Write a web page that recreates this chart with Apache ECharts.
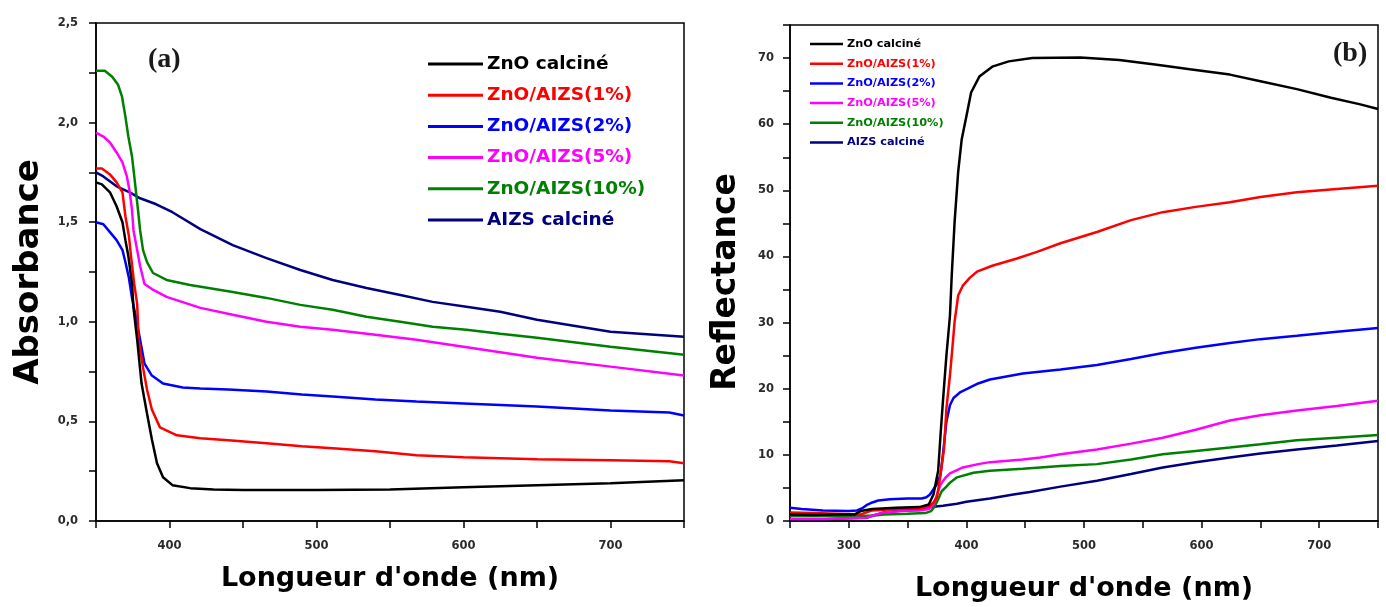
<!DOCTYPE html>
<html>
<head>
<meta charset="utf-8">
<script src="https://cdn.jsdelivr.net/npm/echarts@6/dist/echarts.min.js"></script>
<style>
html,body{margin:0;padding:0;background:#fff;}
#chart{width:1386px;height:607px;}
</style>
</head>
<body>
<div id="chart"></div>
<script>
// ---------- names / colors ----------
const seriesNames = ['ZnO calciné','ZnO/AIZS(1%)','ZnO/AIZS(2%)','ZnO/AIZS(5%)','ZnO/AIZS(10%)','AIZS calciné'];
const seriesColors = ['#000000','#ff0000','#0000ff','#ff00ff','#008000','#000080'];

// ---------- panel (a): Absorbance ----------
const absZnO_wl  = [350,354,359.5,364,368,370,372,374.5,375.5,378,381,384.7,388,391.5,395.6,402,414,430,450,500,550,600,650,700,750];
const absZnO_val = [1.70,1.69,1.65,1.58,1.50,1.41,1.33,1.19,1.07,0.91,0.69,0.54,0.41,0.29,0.22,0.18,0.165,0.158,0.155,0.155,0.158,0.17,0.18,0.19,0.205];

const abs1_wl  = [350,354,359.5,364,368,370,372.4,373.8,376,378,379,382,384.7,388,393.5,405,421,440,466,490,511,540,568,600,650,700,740,750];
const abs1_val = [1.77,1.77,1.74,1.70,1.65,1.53,1.43,1.33,1.19,1.09,0.91,0.77,0.66,0.56,0.47,0.43,0.415,0.405,0.39,0.375,0.365,0.35,0.33,0.32,0.31,0.305,0.30,0.29];

const abs2_wl  = [350,355,359.5,364,368,370,372.4,374.5,375.5,378,380,383,388,395.6,409,421,440,466,490,511,540,568,600,650,700,740,750];
const abs2_val = [1.50,1.49,1.45,1.41,1.36,1.30,1.22,1.12,1.11,0.99,0.91,0.79,0.73,0.69,0.67,0.665,0.66,0.65,0.635,0.625,0.61,0.60,0.59,0.575,0.555,0.545,0.53];

const abs5_wl  = [350,355,359.5,364,368,371,373,374.5,375.5,378,380,383,389,398,421,443,466,489,511,540,568,600,650,700,750];
const abs5_val = [1.95,1.93,1.90,1.85,1.80,1.73,1.65,1.56,1.46,1.36,1.28,1.19,1.16,1.125,1.07,1.035,1.0,0.975,0.96,0.935,0.91,0.875,0.82,0.775,0.73];

const abs10_wl  = [350,356,361,365,367.7,370,372,374.5,376.5,378.6,380,382,384.7,388.8,398,414,443,466,489,511,534,557,579,602,625,650,700,750];
const abs10_val = [2.26,2.26,2.23,2.19,2.13,2.03,1.93,1.83,1.70,1.56,1.46,1.36,1.30,1.245,1.21,1.185,1.15,1.12,1.085,1.06,1.025,1.0,0.975,0.96,0.94,0.92,0.875,0.835];

const absAIZS_wl  = [350,355,364,373,380,391,402,421,443,466,489,511,534,557,579,602,625,650,700,750];
const absAIZS_val = [1.75,1.73,1.68,1.65,1.62,1.59,1.55,1.465,1.385,1.32,1.26,1.21,1.17,1.135,1.10,1.075,1.05,1.01,0.95,0.925];

// ---------- panel (b): Reflectance ----------
const refZnO_wl  = [250,270,290,305,310,320,340,360,368,372,376,378,380,383,386,387.5,390,393,396,400,404,411,422,436,456,497,530,562,590,624,650,681,710,735,750];
const refZnO_val = [1.0,0.9,1.0,1.0,1.5,1.8,2.0,2.1,2.5,4,7.6,13,18,25,31,37,45.3,52.8,57.7,61.2,64.8,67.2,68.7,69.5,70,70.1,69.7,69.0,68.3,67.5,66.5,65.3,64,63,62.3];

const ref1_wl  = [250,270,290,310,315,320,340,360,368,372,375,378,381,383,386,388,390,393,397,403,409,422,443,460,480,511,540,567,595,624,650,681,715,750];
const ref1_val = [1.3,1.2,1.1,1.0,1.3,1.6,1.8,1.9,2.2,2.8,3.6,7,11,17,22,26,30.2,34.1,35.6,36.8,37.7,38.6,39.7,40.7,42,43.7,45.5,46.7,47.5,48.2,49,49.7,50.2,50.7];

const ref2_wl  = [250,260,278,300,307,312,315,320,325,335,350,362,366,369,372,375,378,380,383,386,389,395,401,410,420,448,480,511,540,567,595,624,650,681,715,750];
const ref2_val = [2.0,1.8,1.6,1.5,1.6,2.0,2.4,2.8,3.1,3.3,3.4,3.4,3.6,4.0,4.8,5.6,7,10,15,17.5,18.6,19.5,20,20.8,21.4,22.3,22.9,23.6,24.5,25.4,26.2,26.9,27.5,28,28.6,29.2];

const ref5_wl  = [250,280,300,315,320,330,345,360,368,372,375,378,382,386,392,397,410,420,448,463,480,511,540,567,595,624,650,681,715,750];
const ref5_val = [0.3,0.3,0.4,0.5,0.8,1.3,1.5,1.6,1.8,2.5,4,5.5,6.5,7.2,7.7,8.1,8.6,8.9,9.3,9.6,10.1,10.8,11.7,12.6,13.8,15.2,16,16.7,17.4,18.2];

const ref10_wl  = [250,280,300,320,330,350,365,370,373,376,379,383,386,392,406,420,448,463,480,511,540,567,595,624,650,681,715,750];
const ref10_val = [0.8,0.8,0.8,0.8,1.0,1.1,1.2,1.5,2.2,3.3,4.5,5.2,5.8,6.6,7.3,7.6,7.9,8.1,8.3,8.6,9.3,10.1,10.6,11.1,11.6,12.2,12.6,13.0];

const refAIZS_wl  = [250,280,300,315,320,330,345,360,370,380,392,400,420,440,454,480,511,540,567,595,624,650,681,715,750];
const refAIZS_val = [0.3,0.3,0.4,0.5,0.8,1.3,1.6,1.9,2.1,2.3,2.6,2.9,3.4,4.0,4.4,5.2,6.1,7.1,8.1,8.9,9.6,10.2,10.8,11.4,12.1];

// ---------- axis tick labels ----------
const absTickLabels = ['0,0','0,5','1,0','1,5','2,0','2,5'];

// ---------- build ----------
const zip = (a, b) => a.map((x, i) => [x, b[i]]);
const absSets = [[absZnO_wl,absZnO_val],[abs1_wl,abs1_val],[abs2_wl,abs2_val],[abs5_wl,abs5_val],[abs10_wl,abs10_val],[absAIZS_wl,absAIZS_val]];
const refSets = [[refZnO_wl,refZnO_val],[ref1_wl,ref1_val],[ref2_wl,ref2_val],[ref5_wl,ref5_val],[ref10_wl,ref10_val],[refAIZS_wl,refAIZS_val]];

const FONT = 'DejaVu Sans';
const series = [];
absSets.forEach((s, i) => series.push({
  name: seriesNames[i], type: 'line', xAxisIndex: 0, yAxisIndex: 0,
  data: zip(s[0], s[1]), showSymbol: false, smooth: false,
  lineStyle: {color: seriesColors[i], width: 2.5}, itemStyle: {color: seriesColors[i]},
  z: 10 - i
}));
refSets.forEach((s, i) => series.push({
  name: seriesNames[i], type: 'line', xAxisIndex: 1, yAxisIndex: 1,
  data: zip(s[0], s[1]), showSymbol: false, smooth: false,
  lineStyle: {color: seriesColors[i], width: 2.5}, itemStyle: {color: seriesColors[i]},
  z: 10 - i
}));

const axisLine = {show: true, onZero: false, lineStyle: {color: '#000', width: 1.5}};
const axisTick = {show: true, inside: false, length: 7, lineStyle: {color: '#000', width: 1.5}};
const labelStyle = {color: '#2a2a2a', fontFamily: FONT, fontWeight: 'bold', fontSize: 11.5};
const titleStyle = {color: '#000', fontFamily: FONT, fontWeight: 'bold', fontSize: 27};

const isMult = (v, m) => Math.abs(v / m - Math.round(v / m)) < 1e-6;

const legendData = seriesNames.map((n, i) => ({name: n, textStyle: {color: seriesColors[i]}}));

const option = {
  animation: false,
  backgroundColor: '#fff',
  grid: [
    {left: 96, top: 23, width: 588, height: 498, show: true, borderColor: '#000', borderWidth: 1.5, backgroundColor: 'transparent'},
    {left: 790, top: 25, width: 588, height: 499, show: true, borderColor: '#000', borderWidth: 1.5, backgroundColor: 'transparent'}
  ],
  xAxis: [
    {gridIndex: 0, type: 'value', min: 350, max: 750, interval: 50,
     axisLine, axisTick, splitLine: {show: false},
     axisLabel: Object.assign({margin: 19, formatter: v => (isMult(v, 100) ? String(v) : '')}, labelStyle),
     name: "Longueur d'onde (nm)", nameLocation: 'middle', nameGap: 44, nameTextStyle: titleStyle},
    {gridIndex: 1, type: 'value', min: 250, max: 750, interval: 50,
     axisLine, axisTick, splitLine: {show: false},
     axisLabel: Object.assign({margin: 19, formatter: v => (isMult(v, 100) && v > 250 && v < 750 ? String(v) : '')}, labelStyle),
     name: "Longueur d'onde (nm)", nameLocation: 'middle', nameGap: 54, nameTextStyle: titleStyle}
  ],
  yAxis: [
    {gridIndex: 0, type: 'value', min: 0, max: 2.5, interval: 0.25,
     axisLine, axisTick, splitLine: {show: false},
     axisLabel: Object.assign({margin: 18, formatter: v => (isMult(v, 0.5) ? absTickLabels[Math.round(v / 0.5)] : '')}, labelStyle),
     name: 'Absorbance', nameLocation: 'middle', nameGap: 50, nameRotate: 90, nameTextStyle: Object.assign({}, titleStyle, {fontSize: 34})},
    {gridIndex: 1, type: 'value', min: 0, max: 75, interval: 5,
     axisLine, axisTick, splitLine: {show: false},
     axisLabel: Object.assign({margin: 16, formatter: v => (isMult(v, 10) ? String(v) : '')}, labelStyle),
     name: 'Reflectance', nameLocation: 'middle', nameGap: 47, nameRotate: 90, nameTextStyle: Object.assign({}, titleStyle, {fontSize: 33, padding: [0, 18, 0, 0]})}
  ],
  legend: [
    {orient: 'vertical', left: 423, top: 49, itemWidth: 55, itemHeight: 3, itemGap: 11.2, icon: 'rect',
     selectedMode: false, data: legendData,
     textStyle: {fontFamily: FONT, fontWeight: 'bold', fontSize: 18.5, lineHeight: 20, padding: [0, 0, 0, -1]}},
    {orient: 'vertical', left: 805, top: 33, itemWidth: 33, itemHeight: 2.5, itemGap: 7.7, icon: 'rect',
     selectedMode: false, data: legendData,
     textStyle: {fontFamily: FONT, fontWeight: 'bold', fontSize: 11.3, lineHeight: 12, padding: [0, 0, 0, -1]}}
  ],
  graphic: [
    {type: 'text', left: 148, top: 46, style: {text: '(a)', font: 'bold 28px "Liberation Serif"', fill: '#1a1a1a'}},
    {type: 'text', left: 1333, top: 40, style: {text: '(b)', font: 'bold 28px "Liberation Serif"', fill: '#1a1a1a'}}
  ],
  series
};

const chart = echarts.init(document.getElementById('chart'), null, {renderer: 'canvas'});
chart.setOption(option);
</script>
</body>
</html>
